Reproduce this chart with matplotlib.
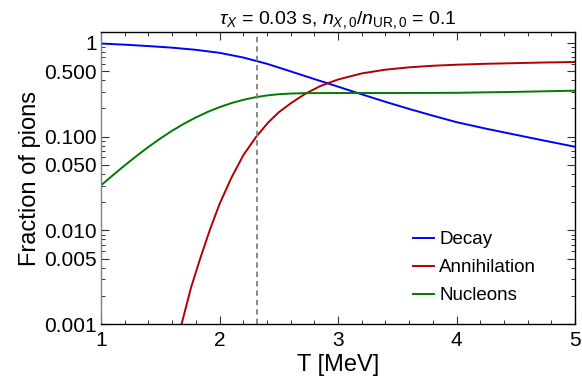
import matplotlib
matplotlib.use("Agg")
import matplotlib.pyplot as plt
from matplotlib.ticker import FixedLocator, MultipleLocator, LogLocator, NullFormatter

plt.rcParams['font.family'] = ['Liberation Sans', 'DejaVu Sans']
plt.rcParams['mathtext.fontset'] = 'custom'
plt.rcParams['mathtext.rm'] = 'Liberation Sans'
plt.rcParams['mathtext.it'] = 'Liberation Sans:italic'

# data
T_decay = [1.0, 1.2, 1.4, 1.6, 1.8, 2.0, 2.2, 2.4, 2.6, 2.8, 3.0, 3.2, 3.4,
           3.6, 3.8, 4.0, 4.25, 4.5, 4.75, 5.0]
decay = [0.9863, 0.9594, 0.9268, 0.8913, 0.8453, 0.7852, 0.6998, 0.5998,
         0.4977, 0.4121, 0.3420, 0.2831, 0.2355, 0.1977, 0.1675, 0.1429,
         0.1216, 0.1047, 0.0902, 0.0780]

T_ann = [1.68, 1.76, 1.84, 1.92, 2.0, 2.1, 2.2, 2.31, 2.41, 2.5, 2.6, 2.72,
         2.85, 3.0, 3.2, 3.4, 3.6, 3.8, 4.0, 4.25, 4.5, 4.75, 5.0]
annihilation = [0.001, 0.002455, 0.005129, 0.01023, 0.01905, 0.03631,
                0.06310, 0.1, 0.1413, 0.1820, 0.2265, 0.2851, 0.3467,
                0.4074, 0.4732, 0.5188, 0.5495, 0.5715, 0.5861, 0.5998,
                0.6095, 0.6194, 0.6266]

T_nuc = [1.0, 1.1, 1.2, 1.3, 1.4, 1.5, 1.6, 1.7, 1.8, 1.9, 2.0, 2.1, 2.2,
         2.3, 2.4, 2.5, 2.6, 2.7, 3.0, 3.5, 4.0, 4.5, 5.0]
nucleons = [0.0302, 0.03873, 0.04932, 0.06223, 0.07762, 0.0955, 0.1156,
            0.1374, 0.1603, 0.1837, 0.2065, 0.228, 0.2472, 0.263, 0.2754,
            0.2838, 0.2884, 0.2911, 0.2924, 0.2924, 0.2938, 0.3006, 0.3097]

T_cut = 2.32

ytick_vals = [0.001, 0.005, 0.01, 0.05, 0.1, 0.5, 1]
ytick_labels = ['0.001', '0.005', '0.010', '0.050', '0.100', '0.500', '1']
xtick_vals = [1, 2, 3, 4, 5]

fig = plt.figure(figsize=(5.82, 3.86), dpi=100)
ax = fig.add_axes([101/582, 1 - 324/386, 474/582, 292/386])

ax.plot(T_decay, decay, color='#0000ff', lw=1.4, label='Decay')
ax.plot(T_ann, annihilation, color='#b20000', lw=1.4, label='Annihilation')
ax.plot(T_nuc, nucleons, color='#007a00', lw=1.4, label='Nucleons')
ax.axvline(T_cut, color='#808080', lw=1.3, ls=(0, (3, 2.2)))

ax.set_yscale('log')
ax.set_xlim(1, 5)
ax.set_ylim(0.001, 1.31)

ax.yaxis.set_major_locator(FixedLocator(ytick_vals))
ax.set_yticklabels(ytick_labels)
ax.yaxis.set_minor_locator(LogLocator(base=10, subs=range(2, 10)))
ax.yaxis.set_minor_formatter(NullFormatter())
ax.set_xticks(xtick_vals)
ax.xaxis.set_minor_locator(MultipleLocator(0.2))

ax.tick_params(which='both', direction='in', top=True, right=True,
               labelsize=15, color='#333333')
ax.tick_params(which='major', length=5.5, width=0.8)
ax.tick_params(which='minor', length=3, width=0.7)
ax.tick_params(axis='x', pad=5)
ax.tick_params(axis='y', pad=3)

for s in ax.spines.values():
    s.set_linewidth(1.0)
ax.spines['left'].set_color('#808080')

ax.set_xlabel('T [MeV]', fontsize=17, labelpad=3)
ax.set_ylabel('Fraction of pions', fontsize=17, labelpad=2)
ax.set_title(r'$\tau_X$ = 0.03 s, $n_{X,0}/n_{\mathrm{UR},0}$ = 0.1',
             fontsize=14, pad=6)

ax.legend(loc='upper left', bbox_to_anchor=(413/582, 1 - 231/386),
          bbox_transform=fig.transFigure, frameon=False, fontsize=13.5,
          handlelength=1.1, handletextpad=0.3, labelspacing=0.58,
          borderpad=0, borderaxespad=0)

fig.savefig('out.png', dpi=100)
